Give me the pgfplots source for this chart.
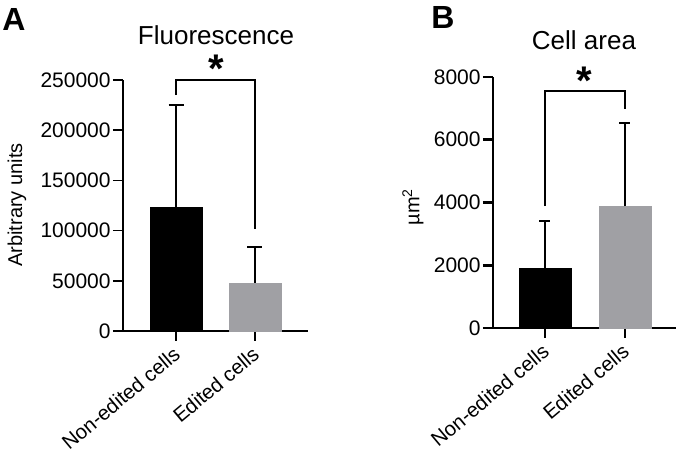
\documentclass[border=0pt]{standalone}
\usepackage{fontspec}
\setmainfont{Liberation Sans}
\usepackage{pgfplots}
\pgfplotsset{compat=1.18}
\definecolor{barGray}{RGB}{160,160,164}
\pgfplotsset{
  panel/.style={
    anchor=south west, scale only axis, height=125.5pt, ymin=0,
    axis x line*=bottom, axis y line*=left,
    tick align=outside, major tick length=5pt,
    clip=false,
    /pgf/number format/assume math mode=true,
    scaled y ticks=false,
    yticklabel style={/pgf/number format/fixed, /pgf/number format/1000 sep={}, font=\fontsize{10.5}{12}\selectfont, inner sep=1pt},
    xtick={0,1}, xticklabels={Non-edited cells, Edited cells},
    xticklabel shift=0pt,
    xticklabel style={font=\fontsize{10.2}{12}\selectfont, inner sep=0pt, xshift=-2pt, yshift=-2pt, rotate=40, anchor=north east},
  },
}
\begin{document}
\begin{tikzpicture}
\path[use as bounding box] (0,0) rectangle (341pt,226.5pt);
% Panel A
\begin{axis}[panel, at={(61.5pt,61pt)}, width=92.5pt,
  xmin=-0.671, xmax=1.671, ymax=250000,
  ytick={0,50000,100000,150000,200000,250000},
  axis line style={line width=0.85pt},
  tick style={line width=0.85pt, black}]
\addplot[ybar, bar width=26pt, bar shift=0pt, fill=black, draw=black,
  error bars/.cd, y dir=plus, y explicit,
  error bar style={line width=0.6pt, black},
  error mark options={rotate=90, line width=0.6pt, mark size=3.75pt, black}]
  coordinates {(0,123500) +- (0,101600)};
\addplot[ybar, bar width=26pt, bar shift=0pt, fill=barGray, draw=barGray,
  error bars/.cd, y dir=plus, y explicit,
  error bar style={line width=0.6pt, black},
  error mark options={rotate=90, line width=0.6pt, mark size=3.75pt, black}]
  coordinates {(1,47800) +- (0,35900)};
\addplot[black, line width=0.75pt, mark=none]
  coordinates {(0,235000) (0,250000) (1,250000) (1,101600)};
\end{axis}
% Panel B
\begin{axis}[panel, at={(246.5pt,62.5pt)}, width=91.5pt,
  xmin=-0.65, xmax=1.6375, ymax=8000,
  ytick={0,2000,4000,6000,8000},
  axis line style={line width=1.4pt},
  tick style={line width=1.4pt, black}]
\addplot[ybar, bar width=26pt, bar shift=0pt, fill=black, draw=black,
  error bars/.cd, y dir=plus, y explicit,
  error bar style={line width=0.7pt, black},
  error mark options={rotate=90, line width=0.7pt, mark size=2.75pt, black}]
  coordinates {(0,1912) +- (0,1498)};
\addplot[ybar, bar width=26pt, bar shift=0pt, fill=barGray, draw=barGray,
  error bars/.cd, y dir=plus, y explicit,
  error bar style={line width=0.7pt, black},
  error mark options={rotate=90, line width=0.7pt, mark size=2.75pt, black}]
  coordinates {(1,3888) +- (0,2646)};
\addplot[black, line width=0.8pt, mark=none]
  coordinates {(0,3888) (0,7554) (1,7554) (1,6980)};
\end{axis}
% Texts
\node[font=\bfseries\fontsize{16}{18}\selectfont] at (7pt,216.5pt) {A};
\node[font=\bfseries\fontsize{16}{18}\selectfont] at (221.5pt,217.75pt) {B};
\node[font=\fontsize{13}{15}\selectfont] at (108pt,209pt) {Fluorescence};
\node[font=\fontsize{13}{15}\selectfont] at (292pt,206.5pt) {Cell area};
\node[font=\bfseries\fontsize{20}{22}\selectfont] at (108.3pt,192pt) {*};
\node[font=\bfseries\fontsize{20}{22}\selectfont] at (292pt,186pt) {*};
\node[rotate=90, font=\fontsize{10}{12}\selectfont] at (8.5pt,124pt) {Arbitrary units};
\node[rotate=90, font=\fontsize{10}{12}\selectfont] at (206.5pt,123pt) {µm\textsuperscript{2}};
\end{tikzpicture}
\end{document}
